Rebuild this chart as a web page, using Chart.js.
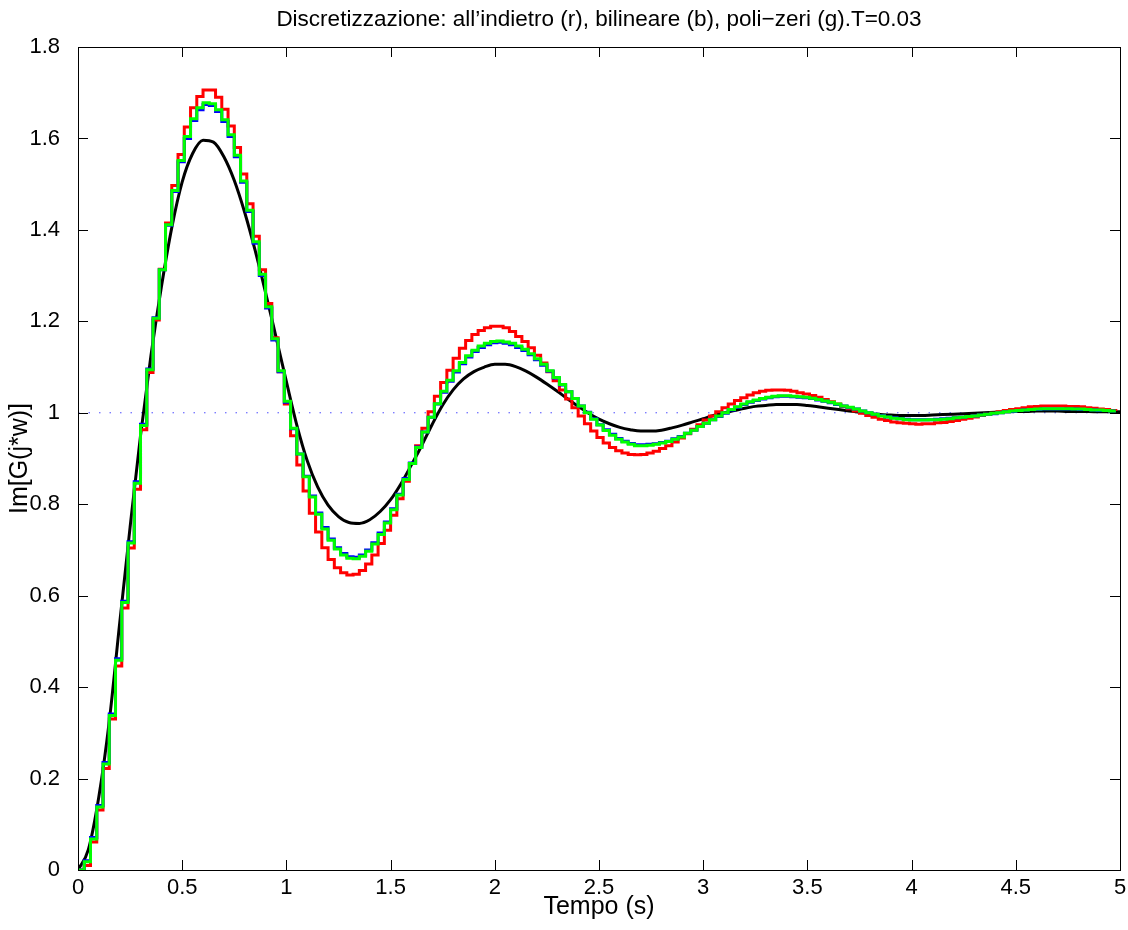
<!DOCTYPE html>
<html>
<head>
<meta charset="utf-8">
<script src="https://cdn.jsdelivr.net/npm/chart.js@4.4.1/dist/chart.umd.min.js"></script>
<style>
  html, body { margin: 0; padding: 0; background: #fff; }
  canvas { display: block; }
</style>
</head>
<body>
<canvas id="graph" width="1128" height="930"></canvas>
<script>
// passo di campionamento dei sistemi discreti e passo della curva continua letta
const T = 0.03;
const dtCont = 0.05;

const xTickLabels = ['0', '0.5', '1', '1.5', '2', '2.5', '3', '3.5', '4', '4.5', '5'];
const yTickLabels = ['0', '0.2', '0.4', '0.6', '0.8', '1', '1.2', '1.4', '1.6', '1.8'];

// risposta continua (nero), un valore ogni 0.05 s
const yCont = [
  0.000, 0.045, 0.160, 0.325, 0.540, 0.750, 0.950, 1.125, 1.275, 1.405,
  1.505, 1.567, 1.596, 1.592, 1.560, 1.508, 1.438, 1.355, 1.263, 1.166,
  1.068, 0.973, 0.895, 0.838, 0.798, 0.773, 0.760, 0.758, 0.766, 0.784,
  0.810, 0.845, 0.886, 0.929, 0.975, 1.017, 1.050, 1.074, 1.090, 1.100,
  1.106, 1.106, 1.101, 1.091, 1.078, 1.063, 1.047, 1.030, 1.014, 0.999,
  0.986, 0.976, 0.968, 0.963, 0.960, 0.960, 0.962, 0.967, 0.973, 0.980,
  0.987, 0.994, 1.000, 1.005, 1.010, 1.014, 1.016, 1.018, 1.018, 1.018,
  1.016, 1.013, 1.010, 1.007, 1.004, 1.001, 0.998, 0.996, 0.995, 0.994,
  0.994, 0.994, 0.995, 0.996, 0.997, 0.998, 0.999, 1.000, 1.001, 1.002,
  1.003, 1.003, 1.004, 1.004, 1.004, 1.003, 1.003, 1.003, 1.002, 1.002,
  1.002
];

// all'indietro (r), un campione ogni T
const yBack = [
  0.000, 0.010, 0.061, 0.131, 0.222, 0.330, 0.446, 0.573, 0.704, 0.833,
  0.963, 1.088, 1.203, 1.314, 1.415, 1.497, 1.565, 1.625, 1.667, 1.692,
  1.706, 1.706, 1.690, 1.664, 1.627, 1.580, 1.522, 1.457, 1.386, 1.313,
  1.239, 1.164, 1.090, 1.019, 0.950, 0.886, 0.829, 0.780, 0.739, 0.705,
  0.679, 0.661, 0.650, 0.645, 0.647, 0.655, 0.669, 0.689, 0.714, 0.743,
  0.776, 0.812, 0.850, 0.889, 0.928, 0.966, 1.002, 1.036, 1.066, 1.093,
  1.119, 1.141, 1.158, 1.171, 1.180, 1.186, 1.189, 1.189, 1.186, 1.178,
  1.167, 1.156, 1.142, 1.126, 1.109, 1.090, 1.070, 1.050, 1.030, 1.011,
  0.993, 0.976, 0.960, 0.946, 0.934, 0.924, 0.917, 0.912, 0.909, 0.908,
  0.909, 0.912, 0.916, 0.922, 0.928, 0.936, 0.945, 0.954, 0.964, 0.974,
  0.984, 0.993, 1.002, 1.011, 1.019, 1.027, 1.033, 1.039, 1.044, 1.047,
  1.049, 1.050, 1.050, 1.049, 1.047, 1.044, 1.041, 1.038, 1.034, 1.029,
  1.024, 1.019, 1.014, 1.009, 1.004, 0.999, 0.994, 0.990, 0.986, 0.983,
  0.980, 0.978, 0.977, 0.976, 0.975, 0.976, 0.976, 0.978, 0.979, 0.981,
  0.983, 0.986, 0.988, 0.991, 0.994, 0.997, 0.999, 1.002, 1.005, 1.007,
  1.009, 1.011, 1.013, 1.014, 1.015, 1.015, 1.015, 1.015, 1.014, 1.014,
  1.013, 1.011, 1.010, 1.008, 1.007, 1.005, 1.004
];

// bilineare (b)
const yBil = [
  0.000, 0.020, 0.071, 0.141, 0.235, 0.341, 0.462, 0.588, 0.718, 0.849,
  0.975, 1.096, 1.208, 1.313, 1.410, 1.484, 1.549, 1.600, 1.639, 1.663,
  1.674, 1.672, 1.659, 1.637, 1.604, 1.560, 1.504, 1.440, 1.371, 1.300,
  1.229, 1.159, 1.090, 1.023, 0.965, 0.910, 0.861, 0.818, 0.781, 0.749,
  0.724, 0.705, 0.692, 0.685, 0.684, 0.689, 0.700, 0.716, 0.737, 0.761,
  0.790, 0.822, 0.856, 0.890, 0.925, 0.958, 0.990, 1.019, 1.045, 1.069,
  1.089, 1.107, 1.122, 1.134, 1.143, 1.149, 1.153, 1.154, 1.152, 1.149,
  1.143, 1.136, 1.127, 1.116, 1.104, 1.091, 1.076, 1.061, 1.046, 1.031,
  1.015, 1.001, 0.987, 0.974, 0.963, 0.953, 0.944, 0.938, 0.933, 0.930,
  0.930, 0.931, 0.932, 0.935, 0.938, 0.943, 0.948, 0.955, 0.962, 0.970,
  0.977, 0.985, 0.992, 0.999, 1.006, 1.012, 1.018, 1.023, 1.027, 1.030,
  1.033, 1.035, 1.036, 1.036, 1.035, 1.034, 1.033, 1.031, 1.028, 1.025,
  1.022, 1.018, 1.015, 1.011, 1.008, 1.004, 1.000, 0.997, 0.994, 0.991,
  0.989, 0.987, 0.986, 0.985, 0.985, 0.985, 0.985, 0.986, 0.987, 0.988,
  0.989, 0.990, 0.992, 0.993, 0.995, 0.997, 0.998, 1.000, 1.002, 1.003,
  1.005, 1.006, 1.007, 1.007, 1.008, 1.008, 1.008, 1.008, 1.008, 1.008,
  1.007, 1.007, 1.006, 1.005, 1.005, 1.004, 1.004
];

// poli-zeri (g)
const yPZ = [
  0.000, 0.018, 0.068, 0.138, 0.232, 0.338, 0.459, 0.585, 0.715, 0.846,
  0.972, 1.094, 1.207, 1.313, 1.411, 1.486, 1.552, 1.604, 1.643, 1.667,
  1.678, 1.676, 1.663, 1.641, 1.608, 1.563, 1.507, 1.443, 1.374, 1.303,
  1.232, 1.162, 1.092, 1.025, 0.966, 0.910, 0.860, 0.816, 0.778, 0.746,
  0.721, 0.702, 0.689, 0.682, 0.681, 0.686, 0.697, 0.713, 0.734, 0.759,
  0.788, 0.820, 0.854, 0.889, 0.924, 0.958, 0.990, 1.020, 1.047, 1.071,
  1.092, 1.110, 1.125, 1.137, 1.146, 1.152, 1.156, 1.157, 1.155, 1.152,
  1.146, 1.139, 1.129, 1.118, 1.106, 1.092, 1.077, 1.062, 1.046, 1.031,
  1.015, 1.000, 0.986, 0.973, 0.961, 0.951, 0.942, 0.936, 0.931, 0.928,
  0.928, 0.929, 0.931, 0.934, 0.937, 0.942, 0.947, 0.955, 0.962, 0.970,
  0.977, 0.985, 0.993, 1.000, 1.007, 1.013, 1.019, 1.024, 1.028, 1.031,
  1.034, 1.036, 1.037, 1.037, 1.036, 1.035, 1.034, 1.032, 1.029, 1.026,
  1.023, 1.019, 1.015, 1.012, 1.008, 1.004, 1.000, 0.997, 0.993, 0.991,
  0.988, 0.987, 0.985, 0.984, 0.984, 0.984, 0.985, 0.985, 0.986, 0.987,
  0.989, 0.990, 0.992, 0.993, 0.995, 0.997, 0.999, 1.000, 1.002, 1.004,
  1.005, 1.006, 1.007, 1.008, 1.009, 1.009, 1.009, 1.009, 1.009, 1.008,
  1.008, 1.007, 1.006, 1.006, 1.005, 1.004, 1.004
];

// riferimento tratteggiato a 1
const refX = [0, 5];
const refY = [1, 1];

const FONT = '"Liberation Sans", Arial, Helvetica, sans-serif';

function toPoints(values, dt) {
  return values.map((v, i) => ({ x: Math.round(i * dt * 1000) / 1000, y: v }));
}

// bordo chiuso, tacche interne stile MATLAB ed etichette dell'asse x
const boxTicks = {
  id: 'boxTicks',
  afterDatasetsDraw(chart) {
    const { ctx, chartArea: a, scales } = chart;
    const len = 10;
    ctx.save();
    ctx.strokeStyle = '#000';
    ctx.lineWidth = 1;
    ctx.beginPath();
    scales.x.ticks.forEach(t => {
      const px = Math.round(scales.x.getPixelForValue(t.value)) + 0.5;
      ctx.moveTo(px, a.bottom); ctx.lineTo(px, a.bottom - len);
      ctx.moveTo(px, a.top); ctx.lineTo(px, a.top + len);
    });
    scales.y.ticks.forEach(t => {
      const py = Math.round(scales.y.getPixelForValue(t.value)) + 0.5;
      ctx.moveTo(a.left, py); ctx.lineTo(a.left + len, py);
      ctx.moveTo(a.right, py); ctx.lineTo(a.right - len, py);
    });
    ctx.stroke();
    ctx.strokeRect(Math.round(a.left) + 0.5, Math.round(a.top) + 0.5,
      Math.round(a.right - a.left), Math.round(a.bottom - a.top));

    ctx.fillStyle = '#000';
    ctx.font = '22px ' + FONT;
    ctx.textAlign = 'center';
    ctx.textBaseline = 'middle';
    scales.x.ticks.forEach((t, i) => {
      ctx.fillText(xTickLabels[i], scales.x.getPixelForValue(t.value), a.bottom + 18);
    });
    ctx.restore();
  }
};

const stairStyle = {
  stepped: true,
  borderWidth: 3,
  pointRadius: 0,
  borderJoinStyle: 'miter',
  fill: false
};

new Chart(document.getElementById('graph'), {
  type: 'line',
  data: {
    datasets: [
      Object.assign({ label: 'poli-zeri', data: toPoints(yPZ, T), borderColor: '#00ff00', order: 1 }, stairStyle),
      Object.assign({ label: 'bilineare', data: toPoints(yBil, T), borderColor: '#0000ff', order: 2 }, stairStyle),
      Object.assign({ label: 'all\'indietro', data: toPoints(yBack, T), borderColor: '#ff0000', order: 3 }, stairStyle),
      {
        label: 'continuo',
        data: toPoints(yCont, dtCont),
        borderColor: '#000000',
        borderWidth: 3,
        pointRadius: 0,
        cubicInterpolationMode: 'monotone',
        order: 4
      },
      {
        label: 'riferimento',
        data: refX.map((x, i) => ({ x: x, y: refY[i] })),
        borderColor: 'rgba(0, 0, 255, 0.7)',
        borderWidth: 1,
        borderDash: [1.5, 9],
        pointRadius: 0,
        order: 5
      }
    ]
  },
  options: {
    responsive: false,
    animation: false,
    events: [],
    layout: { padding: { left: 0, right: 8, top: 0, bottom: 0 } },
    plugins: {
      legend: { display: false },
      tooltip: { enabled: false },
      title: { display: false }
    },
    scales: {
      x: {
        type: 'linear',
        position: 'bottom',
        min: 0,
        max: 5,
        grid: { display: false },
        border: { display: false },
        ticks: { stepSize: 0.5, display: false },
        title: {
          display: true,
          text: 'Tempo (s)',
          color: '#000',
          font: { family: FONT, size: 25 },
          padding: { top: 0, bottom: 8 }
        },
        afterFit: s => { s.height = 60; }
      },
      xTop: {
        type: 'linear',
        position: 'top',
        min: 0,
        max: 5,
        grid: { display: false },
        border: { display: false },
        ticks: { display: false },
        title: {
          display: true,
          text: 'Discretizzazione: all\u2019indietro (r), bilineare (b), poli\u2212zeri (g).T=0.03',
          color: '#000',
          font: { family: FONT, size: 22.5 },
          padding: { top: 6, bottom: 0 }
        },
        afterFit: s => { s.height = 47; }
      },
      y: {
        type: 'linear',
        min: 0,
        max: 1.8,
        grid: { display: false },
        border: { display: false },
        ticks: {
          stepSize: 0.2,
          color: '#000',
          padding: 10,
          autoSkip: false,
          font: { family: FONT, size: 22 },
          callback: (v, i) => yTickLabels[i]
        },
        title: {
          display: true,
          text: 'Im[G(j*w)]',
          color: '#000',
          font: { family: FONT, size: 25 },
          padding: { top: 5, bottom: 0 }
        },
        afterFit: s => { s.width = 78; }
      }
    }
  },
  plugins: [boxTicks]
});
</script>
</body>
</html>
